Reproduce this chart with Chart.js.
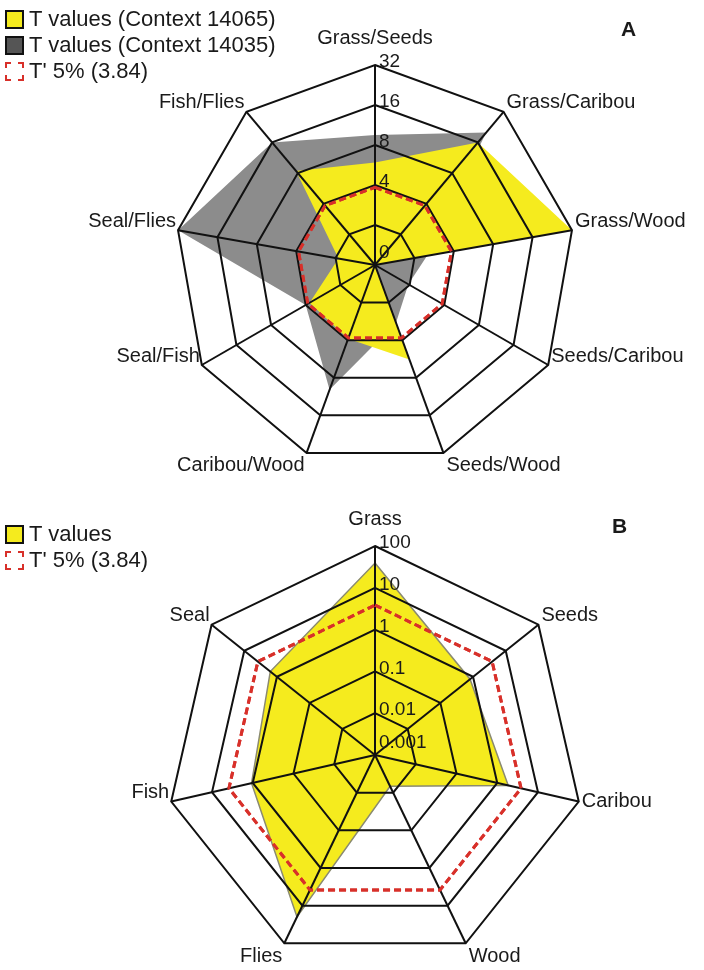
<!DOCTYPE html>
<html>
<head>
<meta charset="utf-8">
<script src="https://cdn.jsdelivr.net/npm/chart.js@4"></script>
<style>
  body { margin: 0; background: #fff; font-family: "Liberation Sans", Arial, sans-serif; color: #1a1a1a; }
  #wrap { position: relative; width: 704px; height: 970px; }
  canvas { position: absolute; left: 0; }
  .legend { position: absolute; left: 5px; font-size: 22px; line-height: 26px; }
  .row { display: flex; align-items: center; height: 26px; }
  .sw { width: 15px; height: 15px; margin-right: 5px; box-sizing: content-box; }
  .tag { position: absolute; font-weight: bold; font-size: 21px; }
</style>
</head>
<body>
<div id="wrap">
  <canvas id="chartA" width="704" height="485" style="top:0"></canvas>
  <canvas id="chartB" width="704" height="485" style="top:485px"></canvas>

  <div class="legend" style="top:6px">
    <div class="row"><div class="sw" style="background:#f5eb1e;border:2px solid #111"></div>T values (Context 14065)</div>
    <div class="row"><div class="sw" style="background:#555;border:2px solid #111"></div>T values (Context 14035)</div>
    <div class="row"><div class="sw" style="border:2px dashed #d8302a"></div>T' 5% (3.84)</div>
  </div>
  <div class="legend" style="top:521px">
    <div class="row"><div class="sw" style="background:#f5eb1e;border:2px solid #111"></div>T values</div>
    <div class="row"><div class="sw" style="border:2px dashed #d8302a"></div>T' 5% (3.84)</div>
  </div>
  <div class="tag" style="left:621px;top:17px">A</div>
  <div class="tag" style="left:612px;top:514px">B</div>
</div>

<script>
// chart A - pairs of categories, T values on a log2 scale
let pairLabels = ['Grass/Seeds','Grass/Caribou','Grass/Wood','Seeds/Caribou','Seeds/Wood','Caribou/Wood','Seal/Fish','Seal/Flies','Fish/Flies']
let ctx14065 = [5.9, 16, 32, 1, 5.7, 3.9, 3.7, 1.9, 8.4]
let ctx14035 = [9.5, 20, 2.5, 1.95, 2.9, 10, 4, 32, 16]
let tickLabelsA = ['0', '', '4', '8', '16', '32']

// chart B - single categories, T values on a log10 scale
let singleLabels = ['Grass','Seeds','Caribou','Wood','Flies','Fish','Seal']
let singleT = [39, 0.81, 1.86, 0.0068, 20, 1.07, 1.6]
let tickLabelsB = ['0.001', '0.01', '0.1', '1', '10', '100']

let tCrit = 3.84

const yellow = '#f5eb1e'
const grey = '#8c8c8c'
const red = '#d8302a'

// position on the radial axis (rings are equally spaced powers)
const posA = v => v <= 1 ? 0 : Math.log2(v)
const posB = v => Math.max(0, Math.log10(v) + 3)

// draws the category names and the tick numbers next to the top axis
const axisText = {
    id: 'axisText',
    afterDraw(chart, args, opts) {
        const r = chart.scales.r
        const ctx = chart.ctx
        // dashed threshold line goes over the black web
        chart.getDatasetMeta(0).controller.draw()
        ctx.save()
        ctx.fillStyle = '#1a1a1a'
        ctx.textBaseline = 'middle'
        ctx.font = '20px "Liberation Sans", Arial, sans-serif'
        chart.data.labels.forEach((lab, i) => {
            const p = r.getPointPosition(i, r.drawingArea)
            const a = r.getIndexAngle(i)
            const s = Math.sin(a), c = Math.cos(a)
            let x = p.x, y = p.y
            if (c > 0.95) {
                ctx.textAlign = 'center'
                y -= 27
            } else {
                ctx.textAlign = s > 0 ? 'left' : 'right'
                x += s > 0 ? 3 : -2
                y += c < -0.8 ? 13 : (Math.abs(c) < 0.3 && s > 0 && opts.flatSide ? 0 : -9)
            }
            ctx.fillText(lab, x, y)
        })
        ctx.font = '19px "Liberation Sans", Arial, sans-serif'
        ctx.textAlign = 'left'
        opts.ticks.forEach((t, k) => {
            if (!t) return
            const d = r.getDistanceFromCenterForValue(k)
            ctx.fillText(t, r.xCenter + 4, r.yCenter - d - (d === 0 ? 12 : 3))
        })
        ctx.restore()
    }
}

function radialScale(max) {
    return {
        min: 0,
        max: max,
        ticks: { display: false, stepSize: 1 },
        grid: { color: '#111', lineWidth: 2, z: 1 },
        angleLines: { color: '#111', lineWidth: 2 },
        pointLabels: { display: false }
    }
}

const chartA = new Chart(document.querySelector('#chartA'), {
    type: 'radar',
    data: {
        labels: pairLabels,
        datasets: [
            {
                label: "T' 5% (3.84)",
                data: pairLabels.map(() => posA(tCrit)),
                borderColor: red, borderWidth: 3, borderDash: [7, 4],
                fill: false, pointRadius: 0
            },
            {
                label: 'T values (Context 14065)',
                data: ctx14065.map(posA),
                backgroundColor: yellow, borderColor: yellow, borderWidth: 0,
                fill: true, pointRadius: 0
            },
            {
                label: 'T values (Context 14035)',
                data: ctx14035.map(posA),
                backgroundColor: grey, borderColor: grey, borderWidth: 0,
                fill: true, pointRadius: 0
            }
        ]
    },
    options: {
        responsive: false,
        animation: false,
        layout: { padding: { left: 175, right: 129, top: 65, bottom: 20 } },
        plugins: { legend: { display: false }, tooltip: { enabled: false },
            axisText: { ticks: tickLabelsA } },
        scales: { r: radialScale(5) }
    },
    plugins: [axisText]
})

const chartB = new Chart(document.querySelector('#chartB'), {
    type: 'radar',
    data: {
        labels: singleLabels,
        datasets: [
            {
                label: "T' 5% (3.84)",
                data: singleLabels.map(() => posB(tCrit)),
                borderColor: red, borderWidth: 3, borderDash: [7, 4],
                fill: false, pointRadius: 0
            },
            {
                label: 'T values',
                data: singleT.map(posB),
                backgroundColor: yellow, borderColor: '#8a8a70', borderWidth: 1.5,
                fill: true, pointRadius: 0
            }
        ]
    },
    options: {
        responsive: false,
        animation: false,
        layout: { padding: { left: 166, right: 120, top: 61, bottom: 6 } },
        plugins: { legend: { display: false }, tooltip: { enabled: false },
            axisText: { ticks: tickLabelsB, flatSide: true } },
        scales: { r: radialScale(5) }
    },
    plugins: [axisText]
})
</script>
</body>
</html>
